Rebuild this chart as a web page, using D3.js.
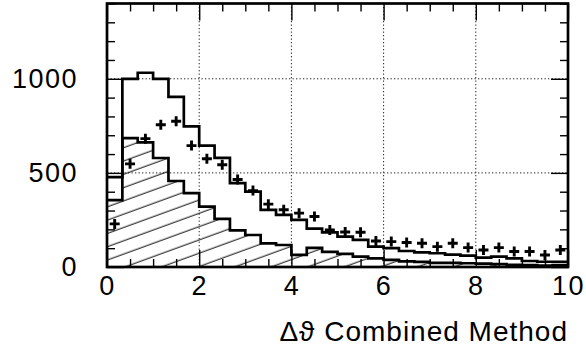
<!DOCTYPE html>
<html>
<head>
<meta charset="utf-8">
<script src="https://cdn.jsdelivr.net/npm/d3@7"></script>
<style>
  body { margin: 0; background: #fff; }
  svg { display: block; font-family: "Liberation Sans", Arial, "DejaVu Sans", sans-serif; }
</style>
</head>
<body>
<div id="container"></div>
<script>
// histogram contents, 30 bins from 0 to 10
var nBins = 30;
var outerCounts = [478, 1000, 1032, 1000, 904, 747, 645, 580, 446, 401, 304, 277, 250, 204, 184,
                   161, 144, 108, 100, 85, 78, 73, 66, 60, 50, 55, 46, 32, 28, 28];
var hatchedCounts = [355, 685, 662, 579, 457, 392, 321, 256, 195, 170, 126, 117, 64, 102, 80,
                     70, 55, 46, 38, 30, 27, 22, 22, 20, 18, 15, 12, 10, 8, 10];
var pointCounts = [229, 548, 682, 756, 774, 645, 575, 543, 465, 406, 334, 304, 286, 268, 197,
                   186, 185, 138, 135, 130, 126, 108, 126, 103, 90, 103, 82, 82, 64, 90];
var xMajor = [0, 2, 4, 6, 8, 10];
var yMajor = [0, 500, 1000];
var xLabel = "\u0394\u03d1 Combined Method";

var width = 586;
var height = 356;
// note: "top" is reserved on window, so use pad* names
var padL = 107, padR = 568, padT = 3.5, padB = 267;

var x = d3.scaleLinear().domain([0, 10]).range([padL, padR]);
var y = d3.scaleLinear().domain([0, 1400]).range([padB, padT]);
var binW = 10 / nBins;

var svg = d3.select("#container").append("svg")
  .attr("width", width)
  .attr("height", height);

// hatch pattern
var defs = svg.append("defs");
var pat = defs.append("pattern")
  .attr("id", "hatch")
  .attr("patternUnits", "userSpaceOnUse")
  .attr("width", 40).attr("height", 12.5)
  .attr("patternTransform", "rotate(-20)");
pat.append("line")
  .attr("x1", 0).attr("x2", 40).attr("y1", 6).attr("y2", 6)
  .attr("stroke", "#000").attr("stroke-width", 1.1);
defs.append("clipPath").attr("id", "plotclip")
  .append("rect").attr("x", padL).attr("y", padT).attr("width", padR - padL).attr("height", padB - padT);

// grid
var grid = svg.append("g").attr("stroke", "#222").attr("stroke-width", 1).attr("stroke-dasharray", "1.3,2.2");
grid.selectAll(".gx").data(xMajor.slice(1, -1)).enter().append("line")
  .attr("x1", d => x(d)).attr("x2", d => x(d)).attr("y1", padT).attr("y2", padB);
grid.selectAll(".gy").data(yMajor.slice(1)).enter().append("line")
  .attr("x1", padL).attr("x2", padR).attr("y1", d => y(d)).attr("y2", d => y(d));

// step data: lower edge of each bin, plus closing point at 10
function steps(vals) {
  var pts = vals.map((v, i) => [i * binW, v]);
  pts.push([10, vals[vals.length - 1]]);
  return pts;
}

var plot = svg.append("g").attr("clip-path", "url(#plotclip)");

var area = d3.area().curve(d3.curveStepAfter)
  .x(d => x(d[0])).y0(y(0)).y1(d => y(d[1]));
var line = d3.line().curve(d3.curveStepAfter)
  .x(d => x(d[0])).y(d => y(d[1]));

plot.append("path")
  .attr("d", area(steps(hatchedCounts)))
  .attr("fill", "url(#hatch)");
plot.append("path")
  .attr("d", line(steps(hatchedCounts)))
  .attr("fill", "none").attr("stroke", "#000").attr("stroke-width", 2.7);
plot.append("path")
  .attr("d", line(steps(outerCounts)))
  .attr("fill", "none").attr("stroke", "#000").attr("stroke-width", 2.7);

// data points as crosses at bin centres
var arm = 5;
plot.selectAll(".pt").data(pointCounts).enter().append("path")
  .attr("class", "pt")
  .attr("d", (d, i) => {
    var cx = x((i + 0.5) * binW), cy = y(d);
    return "M" + (cx - arm) + "," + cy + "H" + (cx + arm) + "M" + cx + "," + (cy - arm) + "V" + (cy + arm);
  })
  .attr("stroke", "#000").attr("stroke-width", 2.9).attr("fill", "none");

// axes (ticks pointing inward on all four sides)
var xMinor = d3.range(0, 10.01, 0.5).filter(v => xMajor.indexOf(v) < 0);
var yMinor = d3.range(0, 1401, 100).filter(v => yMajor.indexOf(v) < 0);
var majorLen = 17, minorLen = 8;

function axisGroup(axis, tx, ty) {
  var g = svg.append("g").attr("transform", "translate(" + tx + "," + ty + ")").call(axis);
  g.select(".domain").remove();
  g.selectAll("line").attr("stroke", "#000").attr("stroke-width", 1.4);
  return g;
}

var xb = axisGroup(d3.axisBottom(x).tickValues(xMajor).tickFormat(d3.format("d"))
  .tickSizeInner(-majorLen).tickSizeOuter(0).tickPadding(9), 0, padB);
xb.selectAll("text").attr("font-size", 27).attr("fill", "#000")
  .attr("font-family", "Liberation Sans, Arial, sans-serif").style("letter-spacing", "1.5px");
axisGroup(d3.axisBottom(x).tickValues(xMinor).tickFormat("").tickSizeInner(-minorLen).tickSizeOuter(0), 0, padB);
axisGroup(d3.axisTop(x).tickValues(xMajor).tickFormat("").tickSizeInner(-majorLen).tickSizeOuter(0), 0, padT);
axisGroup(d3.axisTop(x).tickValues(xMinor).tickFormat("").tickSizeInner(-minorLen).tickSizeOuter(0), 0, padT);

var yl = axisGroup(d3.axisLeft(y).tickValues(yMajor).tickFormat(d3.format("d"))
  .tickSizeInner(-majorLen).tickSizeOuter(0).tickPadding(29), padL, 0);
yl.selectAll("text").attr("font-size", 27).attr("fill", "#000")
  .attr("font-family", "Liberation Sans, Arial, sans-serif").style("letter-spacing", "1.5px");
axisGroup(d3.axisLeft(y).tickValues(yMinor).tickFormat("").tickSizeInner(-minorLen).tickSizeOuter(0), padL, 0);
axisGroup(d3.axisRight(y).tickValues(yMajor).tickFormat("").tickSizeInner(-majorLen).tickSizeOuter(0), padR, 0);
axisGroup(d3.axisRight(y).tickValues(yMinor).tickFormat("").tickSizeInner(-minorLen).tickSizeOuter(0), padR, 0);

// frame
svg.append("rect")
  .attr("x", padL).attr("y", padT).attr("width", padR - padL).attr("height", padB - padT)
  .attr("fill", "none").attr("stroke", "#000").attr("stroke-width", 2.7);

// axis title
svg.append("text")
  .attr("x", padR).attr("y", 341)
  .attr("text-anchor", "end")
  .attr("font-size", 28)
  .style("letter-spacing", "1px")
  .text(xLabel);
</script>
</body>
</html>
